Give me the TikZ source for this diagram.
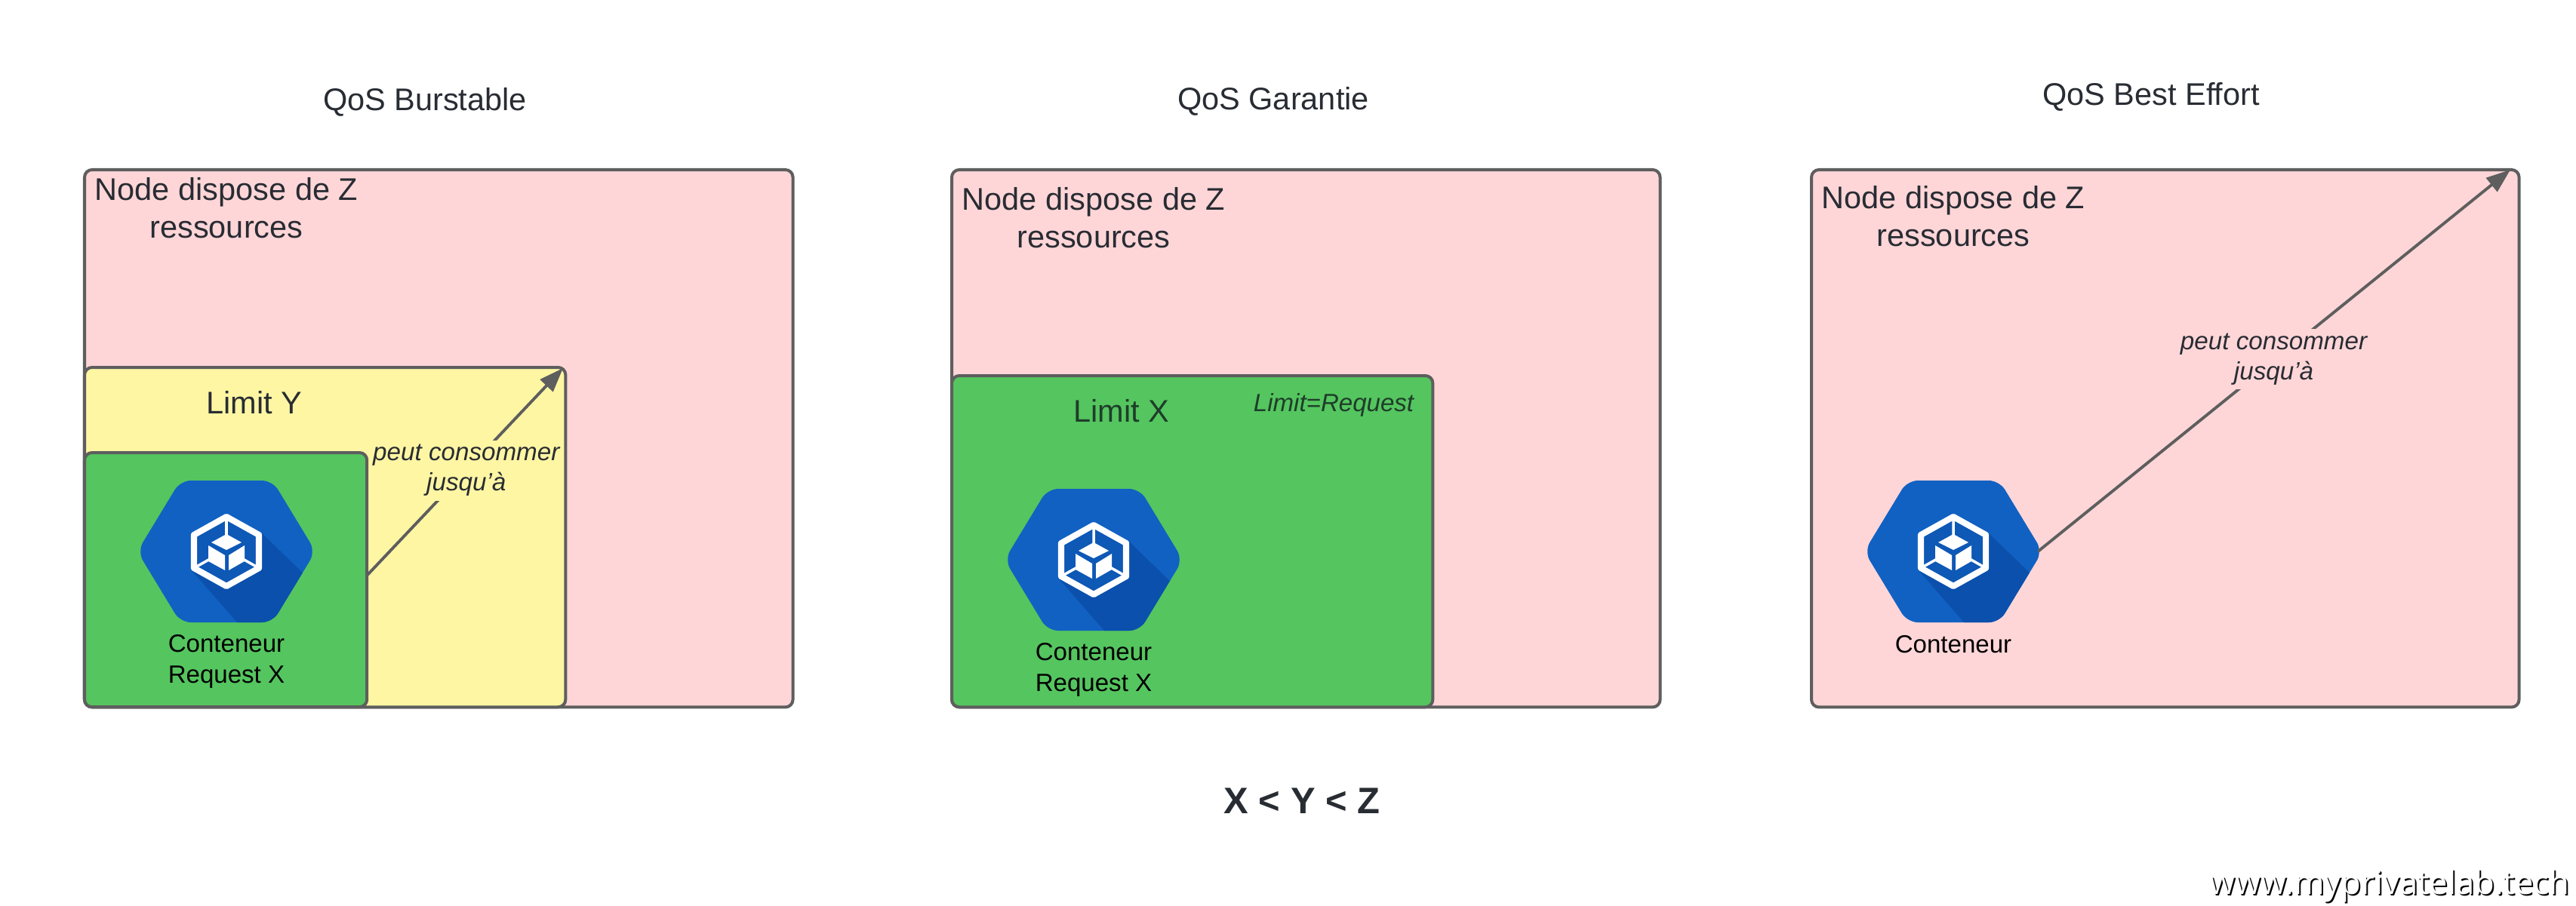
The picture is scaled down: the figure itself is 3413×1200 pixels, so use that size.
\documentclass[tikz,border=0pt]{standalone}
\usepackage{fontspec}
\setmainfont{Liberation Sans}
\newfontfamily\wmfont{Open Sans}
\usetikzlibrary{arrows.meta}
\definecolor{pinkbg}{HTML}{FFD6D8}
\definecolor{yellowbg}{HTML}{FFF6A3}
\definecolor{greenbg}{HTML}{55C55F}
\definecolor{edgegrey}{HTML}{5E5E5E}
\definecolor{inkdark}{HTML}{282C33}
\definecolor{inkgreen}{HTML}{1E3D29}
\definecolor{hexblue}{HTML}{1161C2}
\definecolor{hexshadow}{HTML}{0B50AC}
\definecolor{hexinner}{HTML}{0E58B6}
\tikzset{
  x=0.01cm,y=-0.01cm,
  panelbox/.style={draw=edgegrey,line width=1.14pt,rounded corners=0.1cm,anchor=north west,inner sep=0pt,outer sep=0pt},
  bigtext/.style={font=\fontsize{11.8}{14.2}\selectfont,text=inkdark,align=center,anchor=base,inner sep=0pt},
  smalltext/.style={font=\fontsize{9.4}{11.4}\selectfont,text=black,align=center,anchor=base,inner sep=0pt},
  lablabel/.style={font=\fontsize{9.44}{11.4}\itshape\selectfont,text=inkdark,align=center,inner sep=1pt,minimum height=0.8cm},
  reach/.style={draw=edgegrey,line width=1.1pt,-{Triangle[length=0.32cm,width=0.23cm]}},
  hexslot/.style={minimum width=2.24cm,minimum height=1.88cm,inner sep=0pt,outer sep=0pt},
  pics/hexicon/.style={code={
    \begin{scope}
      \clip[rounded corners=0.14cm] (-118,0) -- (-61,-94) -- (61,-94) -- (118,0) -- (61,94) -- (-61,94) -- cycle;
      \fill[hexblue] (-120,-100) rectangle (120,100);
      \fill[hexshadow] (47,-24) -- (140,66) -- (140,110) -- (28,110) -- (-47,24) -- cycle;
    \end{scope}
    \filldraw[fill=hexinner,draw=white,line width=2.3pt,line join=round]
      (0,-46) -- (43,-22) -- (43,22) -- (0,46) -- (-43,22) -- (-43,-22) -- cycle;
    \draw[white,line width=1pt] (0,-46) -- (0,-20) (-43,22) -- (-20,9) (43,22) -- (20,9);
    \fill[white] (0,-23) -- (20,-12) -- (0,-2) -- (-20,-12) -- cycle;
    \fill[white] (-24,-8) -- (-2,5) -- (-2,25) -- (-24,13) -- cycle;
    \fill[white] (3,5) -- (24,-8) -- (24,13) -- (3,25) -- cycle;
  }},
}
\begin{document}
\begin{tikzpicture}
\useasboundingbox (0,0) rectangle (3413,1200);
% titles
\node[bigtext] (t1) at (563,146) {QoS Burstable};
\node[bigtext] (t2) at (1687,145) {QoS Garantie};
\node[bigtext] (t3) at (2850,139) {QoS Best Effort};
% panel 1
\node[panelbox,fill=pinkbg,minimum width=9.38cm,minimum height=7.12cm] (p1) at (112,225) {};
\node[bigtext] (n1) at (300,315) {Node dispose de Z\\ressources};
\node[panelbox,fill=yellowbg,minimum width=6.37cm,minimum height=4.50cm] (y1) at (112,487) {};
\node[bigtext] (l1) at (337,548) {Limit Y};
\node[panelbox,fill=greenbg,minimum width=3.74cm,minimum height=3.37cm] (g1) at (112,600) {};
\node[hexslot] (h1) at (300,731) {};
\pic at (h1.center) {hexicon};
\node[smalltext] (c1) at (300,905) {Conteneur\\Request X};
\coordinate (s1) at (486,763);
\coordinate (e1) at (746,488);
\draw[reach] (s1) -- node[lablabel,fill=yellowbg,pos=0.507] (a1) {peut consommer\\jusqu'à} (e1);
% panel 2
\node[panelbox,fill=pinkbg,minimum width=9.38cm,minimum height=7.12cm] (p2) at (1261,225) {};
\node[bigtext] (n2) at (1449,328) {Node dispose de Z\\ressources};
\node[panelbox,fill=greenbg,minimum width=6.37cm,minimum height=4.39cm] (g2) at (1261,498) {};
\node[bigtext,text=inkgreen] (l2) at (1486,559) {Limit X};
\node[smalltext,font=\fontsize{9.4}{11.4}\itshape\selectfont,text=inkgreen] (r2) at (1767,545) {Limit=Request};
\node[hexslot] (h2) at (1449,742) {};
\pic at (h2.center) {hexicon};
\node[smalltext] (c2) at (1449,916) {Conteneur\\Request X};
% panel 3
\node[panelbox,fill=pinkbg,minimum width=9.37cm,minimum height=7.12cm] (p3) at (2400,225) {};
\node[bigtext] (n3) at (2588,326) {Node dispose de Z\\ressources};
\node[hexslot] (h3) at (2588,731) {};
\pic at (h3.center) {hexicon};
\node[smalltext] (c3) at (2588,865) {Conteneur};
\coordinate (e3) at (3326,225);
\draw[reach] (h3.east) -- node[lablabel,fill=pinkbg,pos=0.504,xshift=-0.03cm] (a3) {peut consommer\\jusqu'à} (e3);
% footer
\node[bigtext,font=\fontsize{13.9}{16}\bfseries\selectfont] (xyz) at (1725,1078) {X < Y < Z};
\node[anchor=base east,inner sep=0pt,font=\wmfont\fontsize{12.4}{14}\selectfont,text=black] (wm0) at (3407,1187) {www.myprivatelab.tech};
\node[anchor=base east,inner sep=0pt,font=\wmfont\fontsize{12.4}{14}\selectfont,text=white] (wm1) at (3405,1185) {www.myprivatelab.tech};
\end{tikzpicture}
\end{document}
